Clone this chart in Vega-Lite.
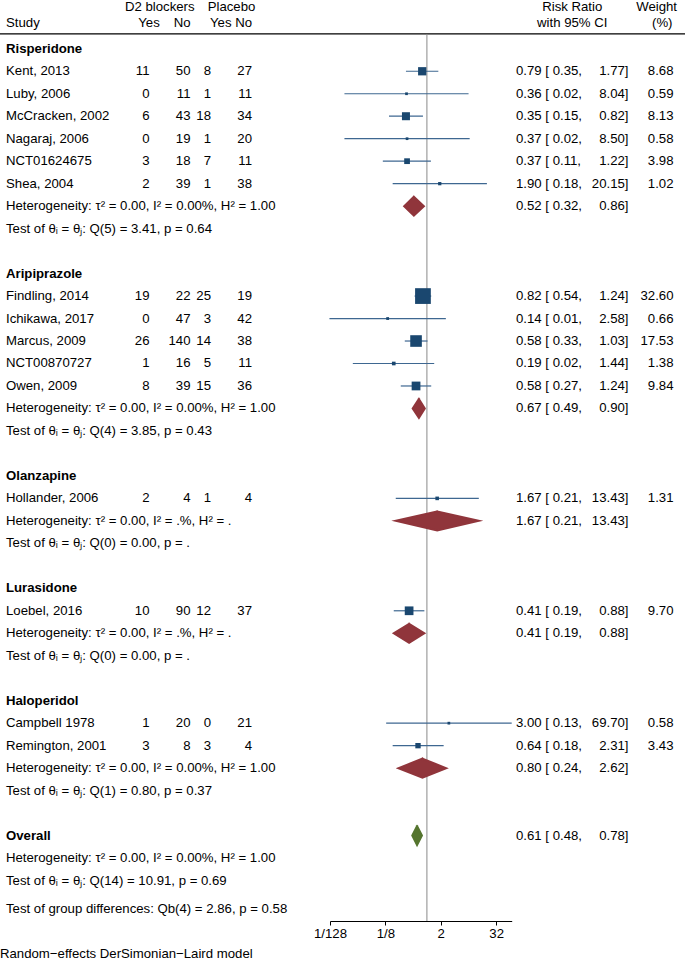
{
  "$schema": "https://vega.github.io/schema/vega-lite/v6.json",
  "width": 685,
  "height": 921,
  "autosize": {"type": "none"},
  "padding": {"left": 0, "top": 0, "right": 0, "bottom": 41},
  "background": "white",
  "config": {
    "view": {"stroke": null},
    "text": {"font": "Liberation Sans", "fontSize": 13.2, "color": "#000000", "baseline": "middle"}
  },
  "datasets": {
    "rows": [
      {"row": -1.15, "label": "Study", "kind": "header"},
      {"row": 0, "label": "Risperidone", "kind": "group"},
      {"row": 1, "label": "Kent, 2013", "kind": "study", "dy": 11, "dn": 50, "py": 8, "pn": 27, "est": 0.79, "lo": 0.35, "hi": 1.77, "w": 8.68, "ciL": "0.79 [ 0.35,", "ciR": "1.77]"},
      {"row": 2, "label": "Luby, 2006", "kind": "study", "dy": 0, "dn": 11, "py": 1, "pn": 11, "est": 0.36, "lo": 0.0161, "hi": 8.04, "w": 0.59, "ciL": "0.36 [ 0.02,", "ciR": "8.04]"},
      {"row": 3, "label": "McCracken, 2002", "kind": "study", "dy": 6, "dn": 43, "py": 18, "pn": 34, "est": 0.35, "lo": 0.15, "hi": 0.82, "w": 8.13, "ciL": "0.35 [ 0.15,", "ciR": "0.82]"},
      {"row": 4, "label": "Nagaraj, 2006", "kind": "study", "dy": 0, "dn": 19, "py": 1, "pn": 20, "est": 0.37, "lo": 0.0161, "hi": 8.5, "w": 0.58, "ciL": "0.37 [ 0.02,", "ciR": "8.50]"},
      {"row": 5, "label": "NCT01624675", "kind": "study", "dy": 3, "dn": 18, "py": 7, "pn": 11, "est": 0.37, "lo": 0.11, "hi": 1.22, "w": 3.98, "ciL": "0.37 [ 0.11,", "ciR": "1.22]"},
      {"row": 6, "label": "Shea, 2004", "kind": "study", "dy": 2, "dn": 39, "py": 1, "pn": 38, "est": 1.9, "lo": 0.18, "hi": 20.15, "w": 1.02, "ciL": "1.90 [ 0.18,", "ciR": "20.15]"},
      {"row": 7, "label": "Heterogeneity: τ² = 0.00, I² = 0.00%, H² = 1.00", "kind": "het", "ciL": "0.52 [ 0.32,", "ciR": "0.86]"},
      {"row": 8, "label": "Test of θᵢ = θⱼ: Q(5) = 3.41, p = 0.64", "kind": "test"},
      {"row": 10, "label": "Aripiprazole", "kind": "group"},
      {"row": 11, "label": "Findling, 2014", "kind": "study", "dy": 19, "dn": 22, "py": 25, "pn": 19, "est": 0.82, "lo": 0.54, "hi": 1.24, "w": 32.6, "ciL": "0.82 [ 0.54,", "ciR": "1.24]"},
      {"row": 12, "label": "Ichikawa, 2017", "kind": "study", "dy": 0, "dn": 47, "py": 3, "pn": 42, "est": 0.14, "lo": 0.0076, "hi": 2.58, "w": 0.66, "ciL": "0.14 [ 0.01,", "ciR": "2.58]"},
      {"row": 13, "label": "Marcus, 2009", "kind": "study", "dy": 26, "dn": 140, "py": 14, "pn": 38, "est": 0.58, "lo": 0.33, "hi": 1.03, "w": 17.53, "ciL": "0.58 [ 0.33,", "ciR": "1.03]"},
      {"row": 14, "label": "NCT00870727", "kind": "study", "dy": 1, "dn": 16, "py": 5, "pn": 11, "est": 0.19, "lo": 0.0245, "hi": 1.44, "w": 1.38, "ciL": "0.19 [ 0.02,", "ciR": "1.44]"},
      {"row": 15, "label": "Owen, 2009", "kind": "study", "dy": 8, "dn": 39, "py": 15, "pn": 36, "est": 0.58, "lo": 0.27, "hi": 1.24, "w": 9.84, "ciL": "0.58 [ 0.27,", "ciR": "1.24]"},
      {"row": 16, "label": "Heterogeneity: τ² = 0.00, I² = 0.00%, H² = 1.00", "kind": "het", "ciL": "0.67 [ 0.49,", "ciR": "0.90]"},
      {"row": 17, "label": "Test of θᵢ = θⱼ: Q(4) = 3.85, p = 0.43", "kind": "test"},
      {"row": 19, "label": "Olanzapine", "kind": "group"},
      {"row": 20, "label": "Hollander, 2006", "kind": "study", "dy": 2, "dn": 4, "py": 1, "pn": 4, "est": 1.67, "lo": 0.21, "hi": 13.43, "w": 1.31, "ciL": "1.67 [ 0.21,", "ciR": "13.43]"},
      {"row": 21, "label": "Heterogeneity: τ² = 0.00, I² = .%, H² = .", "kind": "het", "ciL": "1.67 [ 0.21,", "ciR": "13.43]"},
      {"row": 22, "label": "Test of θᵢ = θⱼ: Q(0) = 0.00, p = .", "kind": "test"},
      {"row": 24, "label": "Lurasidone", "kind": "group"},
      {"row": 25, "label": "Loebel, 2016", "kind": "study", "dy": 10, "dn": 90, "py": 12, "pn": 37, "est": 0.41, "lo": 0.19, "hi": 0.88, "w": 9.7, "ciL": "0.41 [ 0.19,", "ciR": "0.88]"},
      {"row": 26, "label": "Heterogeneity: τ² = 0.00, I² = .%, H² = .", "kind": "het", "ciL": "0.41 [ 0.19,", "ciR": "0.88]"},
      {"row": 27, "label": "Test of θᵢ = θⱼ: Q(0) = 0.00, p = .", "kind": "test"},
      {"row": 29, "label": "Haloperidol", "kind": "group"},
      {"row": 30, "label": "Campbell 1978", "kind": "study", "dy": 1, "dn": 20, "py": 0, "pn": 21, "est": 3.0, "lo": 0.13, "hi": 69.7, "w": 0.58, "ciL": "3.00 [ 0.13,", "ciR": "69.70]"},
      {"row": 31, "label": "Remington, 2001", "kind": "study", "dy": 3, "dn": 8, "py": 3, "pn": 4, "est": 0.64, "lo": 0.18, "hi": 2.31, "w": 3.43, "ciL": "0.64 [ 0.18,", "ciR": "2.31]"},
      {"row": 32, "label": "Heterogeneity: τ² = 0.00, I² = 0.00%, H² = 1.00", "kind": "het", "ciL": "0.80 [ 0.24,", "ciR": "2.62]"},
      {"row": 33, "label": "Test of θᵢ = θⱼ: Q(1) = 0.80, p = 0.37", "kind": "test"},
      {"row": 35, "label": "Overall", "kind": "group", "ciL": "0.61 [ 0.48,", "ciR": "0.78]"},
      {"row": 36, "label": "Heterogeneity: τ² = 0.00, I² = 0.00%, H² = 1.00", "kind": "het"},
      {"row": 37, "label": "Test of θᵢ = θⱼ: Q(14) = 10.91, p = 0.69", "kind": "test"},
      {"row": 38.25, "label": "Test of group differences: Qb(4) = 2.86, p = 0.58", "kind": "test"},
      {"row": 40.25, "label": "Random−effects DerSimonian−Laird model", "kind": "footer"}
    ],
    "headers": [
      {"row": -1.87, "col": "d2", "text": "D2 blockers"},
      {"row": -1.87, "col": "pl", "text": "Placebo"},
      {"row": -1.15, "col": "d2", "text": "Yes"},
      {"row": -1.15, "col": "dn", "text": "No"},
      {"row": -1.15, "col": "pl", "text": "Yes"},
      {"row": -1.15, "col": "pn", "text": "No"},
      {"row": -1.87, "col": "rrC", "text": "Risk Ratio"},
      {"row": -1.15, "col": "rrC", "text": "with 95% CI"},
      {"row": -1.87, "col": "wt1", "text": "Weight"},
      {"row": -1.15, "col": "wt2", "text": "(%)"}
    ],
    "diamonds": [
      {"grp": "Risperidone", "level": "subgroup", "row": 7, "vertex": "top", "rr": 0.52},
      {"grp": "Risperidone", "level": "subgroup", "row": 7, "vertex": "tip", "rr": 0.86},
      {"grp": "Risperidone", "level": "subgroup", "row": 7, "vertex": "bottom", "rr": 0.52},
      {"grp": "Risperidone", "level": "subgroup", "row": 7, "vertex": "tip", "rr": 0.32},
      {"grp": "Risperidone", "level": "subgroup", "row": 7, "vertex": "top", "rr": 0.52},
      {"grp": "Aripiprazole", "level": "subgroup", "row": 16, "vertex": "top", "rr": 0.67},
      {"grp": "Aripiprazole", "level": "subgroup", "row": 16, "vertex": "tip", "rr": 0.9},
      {"grp": "Aripiprazole", "level": "subgroup", "row": 16, "vertex": "bottom", "rr": 0.67},
      {"grp": "Aripiprazole", "level": "subgroup", "row": 16, "vertex": "tip", "rr": 0.49},
      {"grp": "Aripiprazole", "level": "subgroup", "row": 16, "vertex": "top", "rr": 0.67},
      {"grp": "Olanzapine", "level": "subgroup", "row": 21, "vertex": "top", "rr": 1.67},
      {"grp": "Olanzapine", "level": "subgroup", "row": 21, "vertex": "tip", "rr": 13.43},
      {"grp": "Olanzapine", "level": "subgroup", "row": 21, "vertex": "bottom", "rr": 1.67},
      {"grp": "Olanzapine", "level": "subgroup", "row": 21, "vertex": "tip", "rr": 0.21},
      {"grp": "Olanzapine", "level": "subgroup", "row": 21, "vertex": "top", "rr": 1.67},
      {"grp": "Lurasidone", "level": "subgroup", "row": 26, "vertex": "top", "rr": 0.41},
      {"grp": "Lurasidone", "level": "subgroup", "row": 26, "vertex": "tip", "rr": 0.88},
      {"grp": "Lurasidone", "level": "subgroup", "row": 26, "vertex": "bottom", "rr": 0.41},
      {"grp": "Lurasidone", "level": "subgroup", "row": 26, "vertex": "tip", "rr": 0.19},
      {"grp": "Lurasidone", "level": "subgroup", "row": 26, "vertex": "top", "rr": 0.41},
      {"grp": "Haloperidol", "level": "subgroup", "row": 32, "vertex": "top", "rr": 0.8},
      {"grp": "Haloperidol", "level": "subgroup", "row": 32, "vertex": "tip", "rr": 2.62},
      {"grp": "Haloperidol", "level": "subgroup", "row": 32, "vertex": "bottom", "rr": 0.8},
      {"grp": "Haloperidol", "level": "subgroup", "row": 32, "vertex": "tip", "rr": 0.24},
      {"grp": "Haloperidol", "level": "subgroup", "row": 32, "vertex": "top", "rr": 0.8},
      {"grp": "Overall", "level": "overall", "row": 35, "vertex": "top", "rr": 0.61},
      {"grp": "Overall", "level": "overall", "row": 35, "vertex": "tip", "rr": 0.78},
      {"grp": "Overall", "level": "overall", "row": 35, "vertex": "bottom", "rr": 0.61},
      {"grp": "Overall", "level": "overall", "row": 35, "vertex": "tip", "rr": 0.48},
      {"grp": "Overall", "level": "overall", "row": 35, "vertex": "top", "rr": 0.61}
    ]
  },
  "data": {"name": "rows"},
  "layer": [
    {
      "transform": [{"filter": "datum.kind == 'header'"}],
      "mark": {"type": "rule", "color": "#000000", "strokeWidth": 1.3},
      "encoding": {
        "y": {"datum": -0.66, "type": "quantitative", "scale": {"domain": [-2.17, 38.8], "reverse": true, "zero": false, "nice": false}, "axis": null}
      }
    },
    {
      "transform": [{"filter": "datum.kind == 'header'"}],
      "mark": {"type": "rule", "color": "#8a8a8a", "strokeWidth": 1},
      "encoding": {
        "x": {"datum": 1, "type": "quantitative", "scale": {"type": "log", "base": 2, "domain": [0.0078125, 69.7], "range": [330, 511.7], "nice": false}, "axis": null},
        "y": {"datum": -0.66, "type": "quantitative", "scale": {"domain": [-2.17, 38.8], "reverse": true, "zero": false, "nice": false}, "axis": null},
        "y2": {"datum": 38.8}
      }
    },
    {
      "transform": [{"filter": "datum.kind == 'study'"}],
      "mark": {"type": "rule", "color": "#3e6791", "strokeWidth": 1.2},
      "encoding": {
        "x": {
          "field": "lo", "type": "quantitative",
          "scale": {"type": "log", "base": 2, "domain": [0.0078125, 69.7], "range": [330, 511.7], "nice": false},
          "axis": {
            "values": [0.0078125, 0.125, 2, 32],
            "labelExpr": "datum.value < 1 ? '1/' + round(1 / datum.value) : '' + datum.value",
            "title": null, "grid": false, "orient": "bottom",
            "domainColor": "#000000", "domainWidth": 1,
            "tickColor": "#000000", "tickSize": 4, "tickWidth": 1,
            "labelFont": "Liberation Sans", "labelFontSize": 13.2, "labelColor": "#000000",
            "labelPadding": 2, "labelFlush": false, "labelOverlap": false
          }
        },
        "x2": {"field": "hi"},
        "y": {"field": "row", "type": "quantitative", "scale": {"domain": [-2.17, 38.8], "reverse": true, "zero": false, "nice": false}, "axis": null}
      }
    },
    {
      "transform": [{"filter": "datum.kind == 'study'"}],
      "mark": {"type": "square", "color": "#1a476f", "opacity": 1},
      "encoding": {
        "x": {"field": "est", "type": "quantitative", "scale": {"type": "log", "base": 2, "domain": [0.0078125, 69.7], "range": [330, 511.7], "nice": false}, "axis": null},
        "y": {"field": "row", "type": "quantitative", "scale": {"domain": [-2.17, 38.8], "reverse": true, "zero": false, "nice": false}, "axis": null},
        "size": {"field": "w", "type": "quantitative", "scale": {"domain": [0, 32.6], "range": [3, 248]}, "legend": null}
      }
    },
    {
      "data": {"name": "diamonds"},
      "mark": {"type": "line", "filled": true, "strokeWidth": 2, "strokeJoin": "miter", "strokeMiterLimit": 10, "strokeCap": "square", "opacity": 1},
      "encoding": {
        "x": {"field": "rr", "type": "quantitative", "scale": {"type": "log", "base": 2, "domain": [0.0078125, 69.7], "range": [330, 511.7], "nice": false}, "axis": null},
        "y": {"field": "row", "type": "ordinal", "scale": {"type": "band", "domain": [-2,-1,0,1,2,3,4,5,6,7,8,9,10,11,12,13,14,15,16,17,18,19,20,21,22,23,24,25,26,27,28,29,30,31,32,33,34,35,36,37,38], "range": [3.82, 925.5], "paddingInner": 0, "paddingOuter": 0}, "axis": null},
        "yOffset": {"field": "vertex", "type": "nominal", "scale": {"type": "point", "domain": ["top", "tip", "bottom"], "range": [-9.5, 9.5], "padding": 0}},
        "detail": {"field": "grp", "type": "nominal"},
        "order": {"value": null},
        "color": {"field": "level", "type": "nominal", "scale": {"domain": ["subgroup", "overall"], "range": ["#90353b", "#55752f"]}, "legend": null},
        "stroke": {"field": "level", "type": "nominal", "scale": {"domain": ["subgroup", "overall"], "range": ["#90353b", "#55752f"]}, "legend": null}
      }
    },
    {
      "transform": [{"filter": "isValid(datum.label) && datum.kind != 'footer' && datum.kind != 'group'"}],
      "mark": {"type": "text", "align": "left"},
      "encoding": {
        "x": {"datum": "study", "type": "nominal", "scale": {"type": "point", "padding": 0, "range": [6, 252], "domain": ["study","L1","L2","L3","L4","L5","L6","L7","L8","L9","L10","L11","L12","L13","dy","d2","L16","L17","dn","L19","py","L21","pl","L23","pn"]}, "axis": null},
        "y": {"field": "row", "type": "quantitative", "scale": {"domain": [-2.17, 38.8], "reverse": true, "zero": false, "nice": false}, "axis": null},
        "text": {"field": "label", "type": "nominal"}
      }
    },
    {
      "transform": [{"filter": "datum.kind == 'group'"}],
      "mark": {"type": "text", "align": "left", "fontWeight": "bold"},
      "encoding": {
        "x": {"datum": "study", "type": "nominal", "scale": {"type": "point", "padding": 0, "range": [6, 252], "domain": ["study","L1","L2","L3","L4","L5","L6","L7","L8","L9","L10","L11","L12","L13","dy","d2","L16","L17","dn","L19","py","L21","pl","L23","pn"]}, "axis": null},
        "y": {"field": "row", "type": "quantitative", "scale": {"domain": [-2.17, 38.8], "reverse": true, "zero": false, "nice": false}, "axis": null},
        "text": {"field": "label", "type": "nominal"}
      }
    },
    {
      "transform": [{"filter": "datum.kind == 'footer'"}],
      "mark": {"type": "text", "align": "left", "dx": -6},
      "encoding": {
        "x": {"datum": "study", "type": "nominal", "scale": {"type": "point", "padding": 0, "range": [6, 252], "domain": ["study","L1","L2","L3","L4","L5","L6","L7","L8","L9","L10","L11","L12","L13","dy","d2","L16","L17","dn","L19","py","L21","pl","L23","pn"]}, "axis": null},
        "y": {"field": "row", "type": "quantitative", "scale": {"domain": [-2.17, 38.8], "reverse": true, "zero": false, "nice": false}, "axis": null},
        "text": {"field": "label", "type": "nominal"}
      }
    },
    {
      "transform": [{"filter": "isValid(datum.dy)"}, {"fold": ["dy", "dn", "py", "pn"], "as": ["col", "n"]}],
      "mark": {"type": "text", "align": "right"},
      "encoding": {
        "x": {"field": "col", "type": "nominal", "scale": {"type": "point", "padding": 0, "range": [6, 252], "domain": ["study","L1","L2","L3","L4","L5","L6","L7","L8","L9","L10","L11","L12","L13","dy","d2","L16","L17","dn","L19","py","L21","pl","L23","pn"]}, "axis": null},
        "y": {"field": "row", "type": "quantitative", "scale": {"domain": [-2.17, 38.8], "reverse": true, "zero": false, "nice": false}, "axis": null},
        "text": {"field": "n", "type": "nominal"}
      }
    },
    {
      "data": {"name": "headers"},
      "transform": [{"filter": "indexof(['d2','dn','pl','pn'], datum.col) >= 0 && datum.row < -1.5"}],
      "mark": {"type": "text", "align": "center"},
      "encoding": {
        "x": {"field": "col", "type": "nominal", "scale": {"type": "point", "padding": 0, "range": [6, 252], "domain": ["study","L1","L2","L3","L4","L5","L6","L7","L8","L9","L10","L11","L12","L13","dy","d2","L16","L17","dn","L19","py","L21","pl","L23","pn"]}, "axis": null},
        "y": {"field": "row", "type": "quantitative", "scale": {"domain": [-2.17, 38.8], "reverse": true, "zero": false, "nice": false}, "axis": null},
        "text": {"field": "text", "type": "nominal"}
      }
    },
    {
      "data": {"name": "headers"},
      "transform": [{"filter": "indexof(['d2','dn','pl','pn'], datum.col) >= 0 && datum.row > -1.5"}],
      "mark": {"type": "text", "align": "right"},
      "encoding": {
        "x": {"field": "col", "type": "nominal", "scale": {"type": "point", "padding": 0, "range": [6, 252], "domain": ["study","L1","L2","L3","L4","L5","L6","L7","L8","L9","L10","L11","L12","L13","dy","d2","L16","L17","dn","L19","py","L21","pl","L23","pn"]}, "axis": null},
        "y": {"field": "row", "type": "quantitative", "scale": {"domain": [-2.17, 38.8], "reverse": true, "zero": false, "nice": false}, "axis": null},
        "text": {"field": "text", "type": "nominal"}
      }
    },
    {
      "transform": [{"filter": "isValid(datum.ciL)"}],
      "mark": {"type": "text", "align": "left"},
      "encoding": {
        "x": {"datum": "rrL", "type": "nominal", "scale": {"type": "point", "padding": 0, "range": [516, 673.5], "domain": ["rrL","R1","R2","R3","R4","R5","R6","R7","R8","R9","rrC","R11","R12","R13","R14","R15","R16","R17","R18","R19","rrR","R21","R22","R23","R24","wt1","wt2","R27","w"]}, "axis": null},
        "y": {"field": "row", "type": "quantitative", "scale": {"domain": [-2.17, 38.8], "reverse": true, "zero": false, "nice": false}, "axis": null},
        "text": {"field": "ciL", "type": "nominal"}
      }
    },
    {
      "transform": [{"filter": "isValid(datum.ciR)"}],
      "mark": {"type": "text", "align": "right"},
      "encoding": {
        "x": {"datum": "rrR", "type": "nominal", "scale": {"type": "point", "padding": 0, "range": [516, 673.5], "domain": ["rrL","R1","R2","R3","R4","R5","R6","R7","R8","R9","rrC","R11","R12","R13","R14","R15","R16","R17","R18","R19","rrR","R21","R22","R23","R24","wt1","wt2","R27","w"]}, "axis": null},
        "y": {"field": "row", "type": "quantitative", "scale": {"domain": [-2.17, 38.8], "reverse": true, "zero": false, "nice": false}, "axis": null},
        "text": {"field": "ciR", "type": "nominal"}
      }
    },
    {
      "transform": [{"filter": "isValid(datum.w)"}],
      "mark": {"type": "text", "align": "right"},
      "encoding": {
        "x": {"datum": "w", "type": "nominal", "scale": {"type": "point", "padding": 0, "range": [516, 673.5], "domain": ["rrL","R1","R2","R3","R4","R5","R6","R7","R8","R9","rrC","R11","R12","R13","R14","R15","R16","R17","R18","R19","rrR","R21","R22","R23","R24","wt1","wt2","R27","w"]}, "axis": null},
        "y": {"field": "row", "type": "quantitative", "scale": {"domain": [-2.17, 38.8], "reverse": true, "zero": false, "nice": false}, "axis": null},
        "text": {"field": "w", "type": "quantitative", "format": ".2f"}
      }
    },
    {
      "data": {"name": "headers"},
      "transform": [{"filter": "indexof(['rrC','wt1','wt2'], datum.col) >= 0"}],
      "mark": {"type": "text", "align": "center"},
      "encoding": {
        "x": {"field": "col", "type": "nominal", "scale": {"type": "point", "padding": 0, "range": [516, 673.5], "domain": ["rrL","R1","R2","R3","R4","R5","R6","R7","R8","R9","rrC","R11","R12","R13","R14","R15","R16","R17","R18","R19","rrR","R21","R22","R23","R24","wt1","wt2","R27","w"]}, "axis": null},
        "y": {"field": "row", "type": "quantitative", "scale": {"domain": [-2.17, 38.8], "reverse": true, "zero": false, "nice": false}, "axis": null},
        "text": {"field": "text", "type": "nominal"}
      }
    }
  ],
  "resolve": {"scale": {"x": "independent", "y": "independent"}}
}
